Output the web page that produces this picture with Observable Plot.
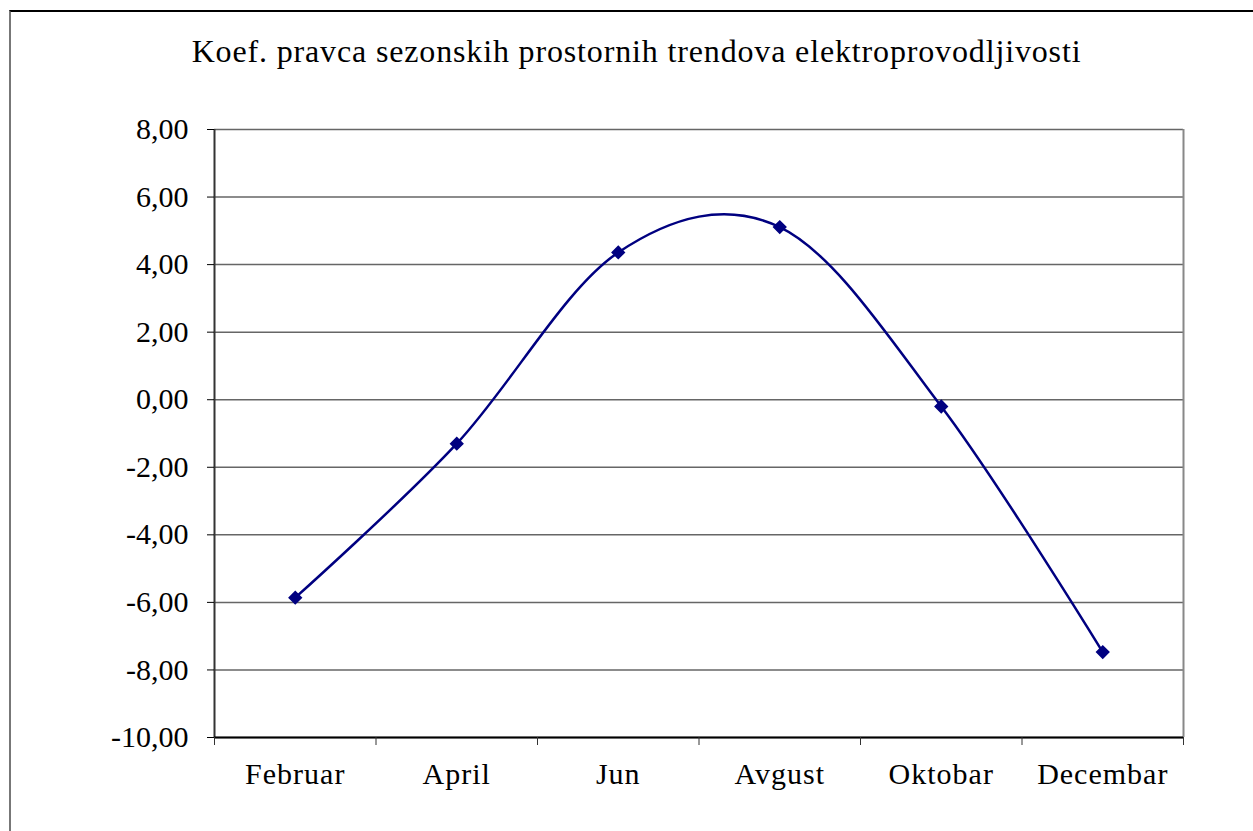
<!DOCTYPE html>
<html>
<head>
<meta charset="utf-8">
<script src="https://cdn.jsdelivr.net/npm/d3@7"></script>
<script src="https://cdn.jsdelivr.net/npm/@observablehq/plot@0.6"></script>
<style>
  html, body { margin: 0; padding: 0; background: #fff; overflow: hidden; }
  #wrap { position: relative; width: 1253px; height: 831px; overflow: hidden; }
  #frame { position: absolute; left: 9px; top: 10px; width: 1400px; height: 1000px;
           border-top: 2px solid #000; border-left: 2px solid #777; box-sizing: border-box; }
  #title { position: absolute; left: 10px; width: 1253px; top: 33px; text-align: center;
           font-family: "Liberation Serif", serif; font-size: 32px; letter-spacing: 0.85px;
           line-height: normal; color: #000; }
  #chart { position: absolute; left: 0; top: 0; }
  #chart .xlab text { letter-spacing: 1px; }
</style>
</head>
<body>
<div id="wrap">
  <div id="frame"></div>
  <div id="chart"></div>
  <div id="title">Koef. pravca sezonskih prostornih trendova elektroprovodljivosti</div>
</div>
<script>
const months = ["Februar", "April", "Jun", "Avgust", "Oktobar", "Decembar"];
const values = [-5.86, -1.30, 4.36, 5.11, -0.20, -7.47];
const yTicks = [-10, -8, -6, -4, -2, 0, 2, 4, 6, 8];

const data = months.map((m, i) => ({pos: i + 0.5, month: m, value: values[i]}));
const bounds = d3.range(0, months.length + 1);
const fmt = d => d.toFixed(2).replace(".", ",");

const chart = Plot.plot({
  width: 1253,
  height: 831,
  marginLeft: 214,
  marginRight: 70,
  marginTop: 129,
  marginBottom: 94,
  style: {fontFamily: "'Liberation Serif', serif", background: "transparent", color: "#000"},
  x: {type: "linear", domain: [0, months.length], axis: null},
  y: {domain: [yTicks[0], yTicks[yTicks.length - 1]], axis: null},
  marks: [
    Plot.ruleY(yTicks, {stroke: "#666", strokeWidth: 1.5}),
    Plot.ruleX([months.length], {stroke: "#888", strokeWidth: 2}),
    Plot.ruleX([0], {stroke: "#333", strokeWidth: 2}),
    Plot.ruleY([yTicks[0]], {stroke: "#000", strokeWidth: 2}),
    Plot.axisY(yTicks, {tickSize: 7, tickPadding: 19, tickFormat: fmt, fontSize: 30, stroke: "#000", label: null}),
    Plot.axisX(bounds, {tickSize: 8, tickFormat: () => "", stroke: "#333", label: null}),
    Plot.axisX(data.map(d => d.pos), {tickSize: 0, tickPadding: 25, fontSize: 30, label: null,
      className: "xlab", tickFormat: (d) => months[Math.floor(d)]}),
    Plot.line(data, {x: "pos", y: "value", stroke: "#000080", strokeWidth: 2.5, curve: "cardinal", tension: 0}),
    Plot.dot(data, {x: "pos", y: "value", symbol: "diamond2", r: 5.5, fill: "#000080", stroke: "#000080"})
  ]
});
document.getElementById("chart").appendChild(chart);
</script>
</body>
</html>
